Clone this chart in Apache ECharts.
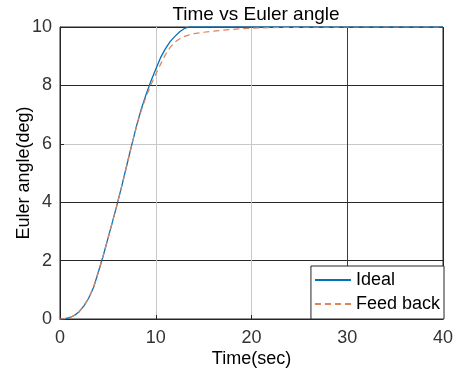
<!DOCTYPE html>
<html>
<head>
<meta charset="utf-8">
<script src="https://cdn.jsdelivr.net/npm/echarts@6/dist/echarts.min.js"></script>
<style>
  html, body { margin: 0; padding: 0; background: #fff; }
  #chart { width: 459px; height: 376px; }
</style>
</head>
<body>
<div id="chart"></div>
<script>
  // values
  var timeSec = [0, 0.5, 1, 1.5, 2, 2.5, 3, 3.5, 4, 4.5, 5, 5.5, 6, 6.5, 7, 7.5, 8, 8.5, 9, 9.5,
    10, 10.5, 11, 11.5, 12, 12.5, 13, 13.5, 14, 15, 16, 17, 18, 19, 20, 22, 25, 30, 35, 40];
  var idealDeg = [0, 0.01, 0.05, 0.12, 0.25, 0.45, 0.72, 1.08, 1.6, 2.15, 2.75, 3.35, 3.97, 4.62, 5.3, 5.97, 6.62, 7.2, 7.7, 8.15,
    8.55, 8.95, 9.25, 9.5, 9.68, 9.84, 9.95, 10, 10, 10, 10, 10, 10, 10, 10, 10, 10, 10, 10, 10];
  var feedbackDeg = [0, 0.01, 0.05, 0.12, 0.25, 0.45, 0.72, 1.08, 1.6, 2.15, 2.75, 3.35, 3.97, 4.62, 5.3, 5.97, 6.6, 7.15, 7.62, 8.02,
    8.38, 8.72, 9.05, 9.3, 9.48, 9.6, 9.68, 9.73, 9.77, 9.82, 9.86, 9.89, 9.92, 9.94, 9.96, 9.98, 9.99, 10, 10, 10];
  var xTicks = [0, 10, 20, 30, 40];
  var yTicks = [0, 2, 4, 6, 8, 10];

  var font = 'Liberation Sans, Arial, sans-serif';
  var chart = echarts.init(document.getElementById('chart'));

  function pairs(xs, ys) {
    return xs.map(function (x, i) { return [x, ys[i]]; });
  }

  chart.setOption({
    animation: false,
    backgroundColor: '#fff',
    title: {
      text: 'Time vs Euler angle',
      left: 251,
      textAlign: 'center',
      top: 0,
      textStyle: { fontFamily: font, fontSize: 19, fontWeight: 'normal', color: '#000' }
    },
    grid: {
      left: 60, right: 16, top: 27, bottom: 57,
      outerBoundsMode: 'none',
      containLabel: false,
      show: true, borderColor: '#262626', borderWidth: 1, backgroundColor: '#fff'
    },
    legend: {
      orient: 'vertical',
      right: 15,
      bottom: 57,
      backgroundColor: '#fff',
      borderColor: '#262626',
      borderWidth: 1,
      borderRadius: 0,
      padding: [5, 4, 6, 3],
      itemWidth: 36,
      itemHeight: 18,
      itemGap: 6,
      itemStyle: { opacity: 0 },
      textStyle: { fontFamily: font, fontSize: 18, color: '#000', lineHeight: 18 },
      data: ['Ideal', 'Feed back']
    },
    xAxis: {
      type: 'value',
      min: xTicks[0], max: xTicks[xTicks.length - 1], interval: 10,
      name: 'Time(sec)',
      nameLocation: 'middle',
      nameGap: 31,
      nameMoveOverlap: false,
      nameTextStyle: { fontFamily: font, fontSize: 18, color: '#000' },
      axisLine: { lineStyle: { color: '#262626' } },
      axisTick: { inside: true, length: 4, lineStyle: { color: '#262626' } },
      axisLabel: { fontFamily: font, fontSize: 18, color: '#333', margin: 10 },
      splitLine: { show: true, lineStyle: { color: ['#c8c8c8', '#c8c8c8', '#c8c8c8', '#3a3a3a', '#262626'], width: 1 } }
    },
    yAxis: {
      type: 'value',
      min: yTicks[0], max: yTicks[yTicks.length - 1], interval: 2,
      name: 'Euler angle(deg)',
      nameLocation: 'middle',
      nameGap: 27,
      nameMoveOverlap: false,
      nameTextStyle: { fontFamily: font, fontSize: 18, color: '#000' },
      axisLine: { show: true, lineStyle: { color: '#262626' } },
      axisTick: { show: true, inside: true, length: 4, lineStyle: { color: '#262626' } },
      axisLabel: { fontFamily: font, fontSize: 18, color: '#333', margin: 8 },
      splitLine: { show: true, lineStyle: { color: ['#262626', '#262626', '#262626', '#c8c8c8', '#262626', '#262626'], width: 1 } }
    },
    series: [
      {
        name: 'Ideal',
        type: 'line',
        symbol: 'none',
        data: pairs(timeSec, idealDeg),
        lineStyle: { color: '#0072BD', width: 1.3 },
        itemStyle: { color: '#0072BD' }
      },
      {
        name: 'Feed back',
        type: 'line',
        symbol: 'none',
        data: pairs(timeSec, feedbackDeg),
        lineStyle: { color: '#E0825A', width: 1.2, type: [6, 4] },
        itemStyle: { color: '#E0825A' }
      }
    ]
  });
</script>
</body>
</html>
